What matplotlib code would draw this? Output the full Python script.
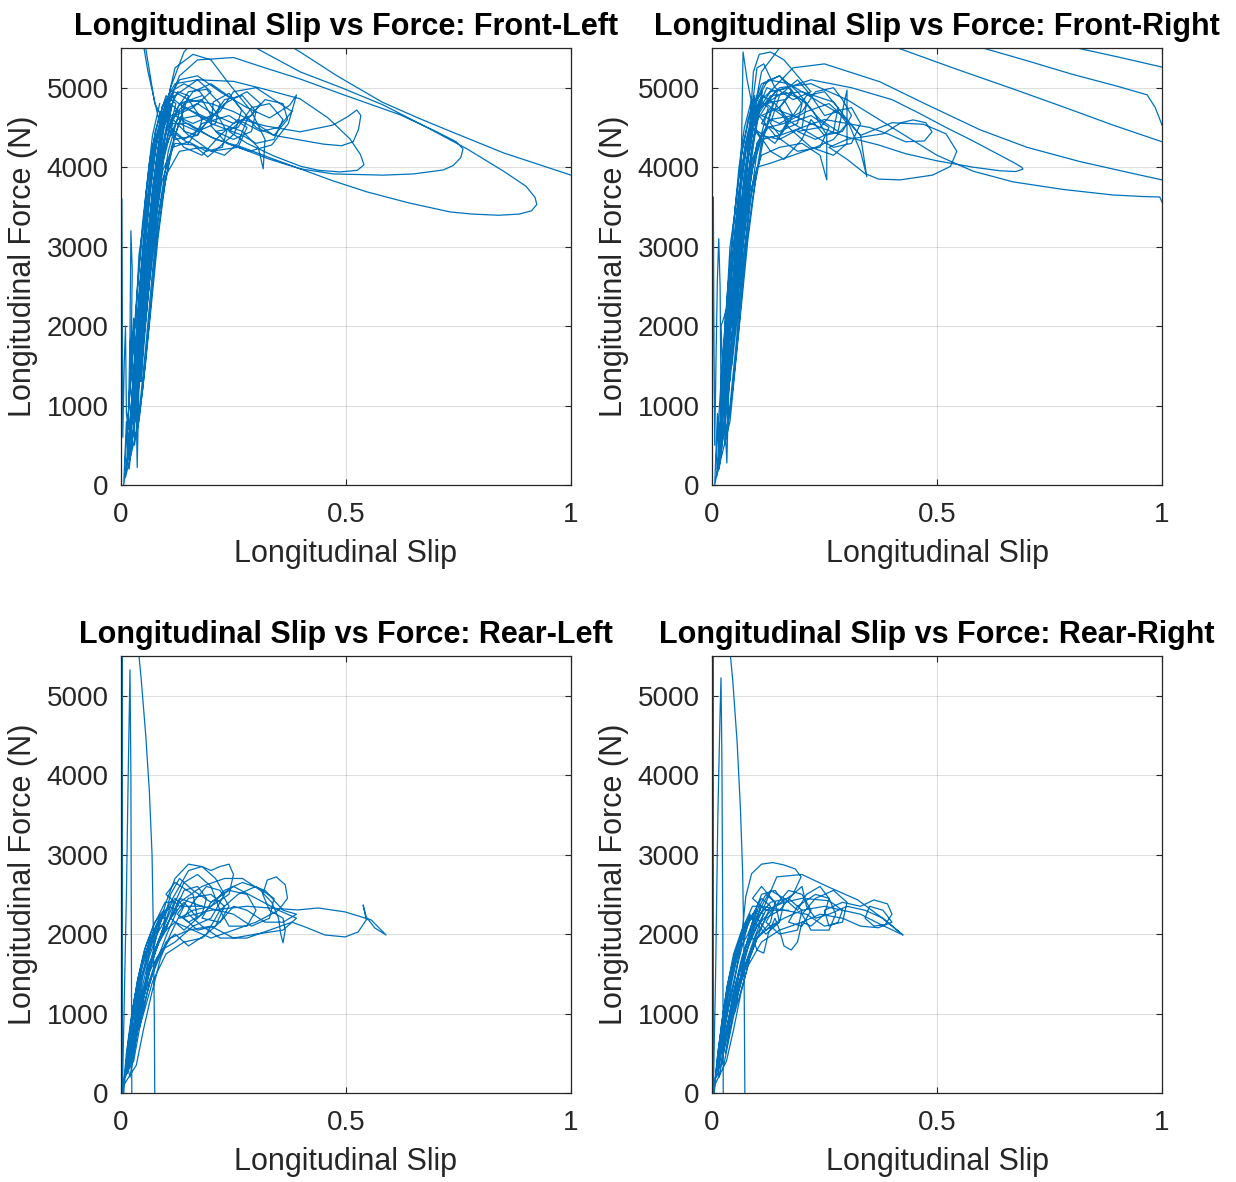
import numpy as np
import matplotlib
matplotlib.use("Agg")
import matplotlib.pyplot as plt

nan = float("nan")

titles = ["Longitudinal Slip vs Force: Front-Left", "Longitudinal Slip vs Force: Front-Right",
          "Longitudinal Slip vs Force: Rear-Left", "Longitudinal Slip vs Force: Rear-Right"]
x_label = "Longitudinal Slip"
y_label = "Longitudinal Force (N)"
x_ticks = [0, 0.5, 1]
x_tick_labels = ["0", "0.5", "1"]
y_ticks = [0, 1000, 2000, 3000, 4000, 5000]

# (slip, force) traces; nan breaks where the trace leaves the axes
fl_pts = [
    (0.000, 0), (0.002, 3600), (0.003, 2200), (0.004, 600), (0.007, 1500), (0.010, 2000), (0.012, 900),
    (0.016, 700), (0.020, 1900), (0.022, 3200), (0.025, 2700), (0.022, 1400), (0.017, 1000), (0.028, 2100),
    (0.033, 1200), (0.036, 220), (0.040, 1300), (0.036, 1900), (0.030, 800),
    (0.028, 1100), (0.040, 2000), (0.052, 2900), (0.064, 3600), (0.076, 4200), (0.090, 4650), (0.110, 4950),
    (0.140, 5050), (0.175, 4950), (0.210, 4700), (0.235, 4450), (0.225, 4250), (0.190, 4200), (0.150, 4320),
    (0.115, 4250), (0.090, 3800), (0.072, 3100), (0.058, 2300), (0.044, 1500), (0.030, 900),
    (0.040, 1700), (0.054, 2700), (0.068, 3500), (0.082, 4200), (0.098, 4700), (0.120, 5250), (0.160, 5420),
    (0.200, 5350), (0.240, 5050), (0.290, 4700), (0.320, 4350), (0.316, 3980), (0.305, 4250), (0.270, 4450),
    (0.220, 4550), (0.170, 4650), (0.125, 4600), (0.095, 4200), (0.075, 3500), (0.060, 2700), (0.046, 1800),
    (0.034, 1200),
    (0.046, 2100), (0.060, 3100), (0.074, 3900), (0.088, 4500), (0.105, 4850), (0.130, 5100), (0.170, 5150),
    (0.220, 4950), (0.280, 4750), (0.330, 4620), (0.375, 4780), (0.390, 4910), (0.372, 4550), (0.335, 4280),
    (0.285, 4200), (0.235, 4300), (0.200, 4520), (0.205, 4820), (0.240, 4930), (0.268, 4720), (0.252, 4420),
    (0.193, 4130), (0.160, 4280), (0.120, 4300), (0.092, 3950), (0.074, 3200), (0.058, 2300), (0.042, 1400),
    (0.052, 2500), (0.066, 3400), (0.080, 4150), (0.096, 4650), (0.118, 4950), (0.150, 4850), (0.180, 4600),
    (0.170, 4400), (0.140, 4450), (0.135, 4750), (0.160, 4950), (0.200, 5050), (0.250, 4850), (0.300, 4500),
    (0.340, 4400), (0.370, 4600), (0.360, 4800), (0.320, 4850), (0.280, 4600), (0.260, 4300), (0.230, 4150),
    (0.180, 4250), (0.130, 4200), (0.100, 3900), (0.080, 3300), (0.064, 2600), (0.050, 1800),
    (0.060, 2800), (0.075, 3700), (0.090, 4400), (0.110, 5000), (0.140, 5450), (0.180, 5700), (0.260, 5800),
    (0.340, 5650), (0.398, 5450), (0.480, 5150), (0.580, 4820), (0.660, 4620), (0.724, 4470), (0.850, 4180),
    (1.000, 3900), (1.030, 3850), (nan, nan),
    (0.260, 5700), (0.300, 5500), (0.398, 5200), (0.490, 5000), (0.582, 4785), (0.680, 4500), (0.769, 4230),
    (0.850, 3950), (0.900, 3760), (0.920, 3620), (0.924, 3530), (0.912, 3450), (0.885, 3410), (0.840, 3395),
    (0.780, 3410), (0.731, 3437), (0.640, 3550), (0.546, 3690), (0.470, 3830), (0.398, 3980), (0.330, 4120),
    (0.270, 4250), (0.210, 4350), (0.160, 4500), (0.120, 4650), (0.100, 4450), (0.085, 3900), (0.068, 3000),
    (0.054, 2200), (0.040, 1500),
    (0.056, 2600), (0.072, 3600), (0.088, 4300), (0.105, 4800), (0.130, 5150), (0.170, 5350), (0.250, 5380),
    (0.320, 5250), (0.398, 5110), (0.500, 4900), (0.620, 4660), (0.700, 4450), (0.745, 4320), (0.760, 4230),
    (0.755, 4120), (0.738, 4020), (0.716, 3965), (0.650, 3915), (0.583, 3900), (0.472, 3915), (0.398, 3980),
    (0.330, 4100), (0.270, 4230), (0.200, 4380), (0.150, 4550), (0.115, 4550), (0.095, 4100), (0.078, 3400),
    (0.062, 2500), (0.048, 1700),
    (0.064, 2900), (0.080, 3900), (0.096, 4500), (0.120, 4900), (0.170, 5100), (0.250, 5080), (0.320, 4980),
    (0.398, 4860), (0.460, 4620), (0.509, 4355), (0.532, 4160), (0.540, 4030), (0.525, 3960), (0.487, 3940),
    (0.440, 3960), (0.400, 4010), (0.340, 4140), (0.280, 4300), (0.240, 4450), (0.270, 4600), (0.320, 4520),
    (0.398, 4445), (0.471, 4530), (0.505, 4640), (0.524, 4720), (0.533, 4650), (0.528, 4480), (0.516, 4320),
    (0.490, 4270), (0.450, 4290), (0.400, 4340), (0.340, 4400), (0.300, 4550), (0.250, 4700), (0.200, 4800),
    (0.150, 4850), (0.110, 4600), (0.088, 3900), (0.070, 3000), (0.056, 2100), (0.044, 1300),
    (0.060, 2600), (0.076, 3700), (0.088, 4500), (0.060, 5200), (0.048, 5600), (nan, nan),
    (0.052, 5600), (0.075, 4800), (0.095, 4600), (0.130, 4700), (0.170, 4800), (0.210, 4650), (0.250, 4550),
    (0.290, 4650), (0.310, 4800), (0.280, 4950), (0.230, 4800), (0.180, 4500), (0.140, 4350), (0.110, 4500),
    (0.130, 4800), (0.180, 4900),
]

fl_band = [
    (0.008, 200), (0.020, 1200), (0.034, 2300), (0.048, 3300), (0.064, 4100), (0.085, 4650), (0.100, 4850),
    (0.088, 4400), (0.070, 3700), (0.055, 2900), (0.040, 1900), (0.026, 900), (0.014, 300),
    (0.018, 500), (0.030, 1500), (0.044, 2600), (0.058, 3500), (0.075, 4300), (0.100, 4800), (0.118, 4900),
    (0.098, 4400), (0.080, 3800), (0.064, 3000), (0.050, 2100), (0.036, 1200), (0.024, 500),
    (0.022, 700), (0.036, 1800), (0.050, 2800), (0.064, 3700), (0.082, 4400), (0.110, 4800), (0.130, 4700),
    (0.105, 4200), (0.086, 3500), (0.070, 2700), (0.056, 1800), (0.042, 1000), (0.030, 500),
    (0.030, 900), (0.044, 2000), (0.058, 3000), (0.072, 3800), (0.090, 4450), (0.118, 4850), (0.140, 4750),
    (0.112, 4250), (0.092, 3600), (0.076, 2900), (0.062, 2000), (0.048, 1200), (0.034, 600),
    (0.038, 1200), (0.050, 2200), (0.062, 3100), (0.078, 4000), (0.098, 4600), (0.126, 4950), (0.150, 4900),
    (0.120, 4400), (0.098, 3800), (0.082, 3100), (0.068, 2300), (0.054, 1500), (0.040, 800),
    (0.010, 100), (0.024, 1100), (0.040, 2400), (0.054, 3400), (0.070, 4200), (0.092, 4700), (0.108, 4700),
    (0.090, 4200), (0.074, 3500), (0.060, 2700), (0.046, 1800), (0.032, 900), (0.018, 200),
    (0.014, 300), (0.028, 1400), (0.042, 2500), (0.056, 3400), (0.072, 4150), (0.094, 4650), (0.114, 4800),
    (0.096, 4300), (0.080, 3700), (0.064, 2800), (0.050, 1900), (0.036, 1000), (0.020, 400),
    (0.012, 600), (0.026, 1600), (0.040, 2700), (0.056, 3700), (0.076, 4450), (0.100, 4900), (0.122, 4800),
    (0.100, 4300), (0.080, 4000), (0.062, 3200), (0.048, 2300), (0.034, 1300), (0.022, 600),
    (0.006, 0), (0.012, 800), (0.018, 300), (0.026, 1300), (0.020, 1800), (0.032, 2000), (0.040, 2900),
    (0.050, 3300), (0.060, 3900), (0.070, 4400), (0.086, 4800), (nan, nan),
    (0.120, 4700), (0.150, 4950), (0.190, 4980), (0.220, 4800), (0.210, 4550), (0.170, 4450), (0.130, 4550),
    (0.140, 4750), (0.200, 4600), (0.230, 4850), (0.270, 4900), (0.300, 4700), (0.290, 4450), (0.250, 4350),
    (0.210, 4450), (0.260, 4500), (0.290, 4750), (0.330, 4800), (0.360, 4600), (0.340, 4350), (0.300, 4300),
    (0.270, 4400), (0.200, 4550), (0.130, 4800), (0.180, 4850), (0.200, 4650), (0.170, 4400), (0.120, 4350),
    (0.100, 4500), (0.150, 4300), (0.180, 4550), (0.240, 4650), (0.280, 4500), (0.260, 4250), (0.200, 4200),
    (0.150, 4400), (0.090, 4750), (0.120, 5050), (0.170, 5100), (0.200, 4950), (0.160, 4750), (0.120, 4650),
    (0.160, 4550), (0.220, 4700), (0.250, 4950), (0.300, 5000), (0.340, 4850), (0.380, 4700), (0.350, 4500),
    (0.310, 4450), (0.260, 4600), (0.220, 4400), (0.180, 4150), (0.140, 4250), (0.110, 4450),
]

fr_pts = [
    (0.000, 0), (0.003, 3625), (0.004, 2200), (0.006, 500), (0.009, 1600), (0.012, 2600), (0.015, 3100),
    (0.018, 2500), (0.020, 1100), (0.015, 300), (0.024, 1400), (0.030, 2200), (0.027, 1000), (0.033, 277),
    (0.038, 1400), (0.034, 2300), (0.028, 1200),
    (0.040, 2000), (0.052, 2900), (0.064, 3700), (0.078, 4300), (0.092, 4750), (0.115, 5050), (0.150, 5150),
    (0.190, 4950), (0.225, 4700), (0.255, 4400), (0.255, 3840), (0.240, 4150), (0.200, 4300), (0.150, 4250),
    (0.110, 4150), (0.085, 3700), (0.068, 3000), (0.054, 2200), (0.040, 1300),
    (0.050, 2400), (0.062, 3400), (0.066, 4400), (0.069, 5450), (0.078, 5100), (0.092, 4700), (0.120, 4800),
    (0.160, 4950), (0.200, 4850), (0.240, 4600), (0.280, 4450), (0.300, 4970), (0.300, 4300), (0.270, 4150),
    (0.220, 4250), (0.170, 4500), (0.150, 4750), (0.175, 4950), (0.210, 4800), (0.200, 4500), (0.150, 4350),
    (0.110, 4400), (0.090, 4100), (0.074, 3400), (0.060, 2600), (0.046, 1700),
    (0.058, 2900), (0.072, 3800), (0.086, 4400), (0.100, 4850), (0.125, 5100), (0.170, 5050), (0.230, 4850),
    (0.290, 4650), (0.330, 4400), (0.344, 3880), (0.330, 4200), (0.300, 4600), (0.260, 4800), (0.210, 4700),
    (0.160, 4550), (0.125, 4500), (0.100, 4300), (0.082, 3700), (0.066, 2900), (0.052, 2000),
    (0.064, 3200), (0.078, 4000), (0.092, 4550), (0.110, 4900), (0.140, 4800), (0.170, 4600), (0.150, 4400),
    (0.130, 4550), (0.150, 4900), (0.190, 5100), (0.220, 4900), (0.250, 4650), (0.280, 4700), (0.300, 4550),
    (0.270, 4350), (0.230, 4250), (0.180, 4150), (0.130, 4050), (0.100, 4000), (0.085, 3600), (0.070, 2900),
    (0.056, 2100), (0.044, 1500),
    (0.060, 2900), (0.075, 3900), (0.090, 4600), (0.110, 5200), (0.150, 5500), (0.220, 5650), (0.320, 5650),
    (0.418, 5490), (0.540, 5240), (0.669, 4985), (0.780, 4760), (0.891, 4530), (1.000, 4320), (1.030, 4260),
    (nan, nan),
    (0.560, 5600), (0.602, 5500), (0.700, 5340), (0.800, 5170), (0.900, 5020), (0.967, 4910), (0.985, 4750),
    (1.000, 4530), (nan, nan),
    (0.780, 5550), (0.811, 5500), (0.900, 5390), (1.000, 5260), (nan, nan),
    (0.120, 4900), (0.180, 5250), (0.250, 5300), (0.373, 5075), (0.480, 4780), (0.596, 4470), (0.700, 4250),
    (0.818, 4070), (0.920, 3940), (1.000, 3840), (nan, nan),
    (0.100, 4700), (0.150, 5000), (0.220, 5050), (0.300, 4850), (0.400, 4500), (0.500, 4150), (0.580, 3950),
    (0.669, 3815), (0.780, 3720), (0.891, 3650), (0.960, 3630), (0.995, 3625), (1.000, 3560), (nan, nan),
    (0.090, 4500), (0.140, 4950), (0.220, 5100), (0.310, 5000), (0.400, 4850), (0.460, 4680), (0.520, 4500),
    (0.580, 4330), (0.630, 4180), (0.670, 4060), (0.688, 4000), (0.691, 3975), (0.675, 3945), (0.640, 3955),
    (0.580, 4000), (0.500, 4080), (0.430, 4170), (0.370, 4280), (0.300, 4380), (0.240, 4500), (0.180, 4650),
    (0.130, 4600), (0.100, 4300), (0.084, 3800), (0.068, 3100), (0.054, 2300),
    (0.066, 3300), (0.080, 4100), (0.095, 4600), (0.130, 4900), (0.200, 4950), (0.270, 4820), (0.300, 4600),
    (0.330, 4400), (0.400, 4560), (0.470, 4540), (0.520, 4420), (0.544, 4200), (0.530, 4010), (0.490, 3900),
    (0.418, 3840), (0.370, 3850), (0.340, 3920), (0.300, 4100), (0.260, 4250), (0.300, 4350), (0.380, 4420),
    (0.420, 4560), (0.447, 4595), (0.475, 4560), (0.489, 4445), (0.472, 4330), (0.430, 4320), (0.390, 4420),
    (0.350, 4500), (0.300, 4550), (0.250, 4600), (0.200, 4500), (0.150, 4400), (0.110, 4350), (0.090, 4000),
    (0.074, 3300), (0.060, 2500),
    (0.072, 3600), (0.084, 4500), (0.092, 5200), (0.105, 5420), (0.130, 5450), (0.160, 5350), (0.190, 5150),
    (0.220, 4950), (0.180, 4850), (0.140, 5000), (0.115, 5300), (0.100, 5250), (0.090, 4800), (0.080, 4200),
]

fr_band = [
    (0.008, 200), (0.020, 1300), (0.034, 2400), (0.048, 3300), (0.064, 4100), (0.080, 4600), (0.095, 4900),
    (0.084, 4400), (0.068, 3700), (0.054, 2900), (0.040, 1900), (0.026, 900), (0.014, 300),
    (0.018, 600), (0.030, 1600), (0.044, 2700), (0.058, 3600), (0.074, 4300), (0.095, 4800), (0.112, 4950),
    (0.094, 4400), (0.078, 3800), (0.062, 3000), (0.048, 2100), (0.034, 1200), (0.022, 500),
    (0.022, 800), (0.036, 1900), (0.050, 2900), (0.064, 3800), (0.080, 4400), (0.105, 4850), (0.125, 4750),
    (0.100, 4200), (0.084, 3500), (0.068, 2700), (0.054, 1800), (0.040, 1000), (0.028, 500),
    (0.030, 1000), (0.044, 2100), (0.058, 3100), (0.072, 3900), (0.090, 4500), (0.115, 4900), (0.135, 4800),
    (0.108, 4250), (0.090, 3600), (0.074, 2900), (0.060, 2000), (0.046, 1200), (0.032, 600),
    (0.038, 1300), (0.050, 2300), (0.062, 3200), (0.078, 4050), (0.096, 4650), (0.122, 5000), (0.145, 4950),
    (0.116, 4400), (0.096, 3800), (0.080, 3100), (0.066, 2300), (0.052, 1500), (0.040, 800),
    (0.010, 100), (0.024, 1200), (0.038, 2500), (0.052, 3500), (0.068, 4250), (0.088, 4750), (0.104, 4750),
    (0.088, 4250), (0.072, 3550), (0.058, 2700), (0.044, 1800), (0.030, 900), (0.016, 200),
    (0.014, 300), (0.028, 1500), (0.042, 2600), (0.056, 3500), (0.072, 4200), (0.092, 4700), (0.110, 4850),
    (0.094, 4350), (0.078, 3700), (0.062, 2800), (0.048, 1900), (0.034, 1000), (0.020, 400),
    (0.006, 0), (0.012, 900), (0.018, 300), (0.024, 1400), (0.020, 2000), (0.032, 2200), (0.040, 3000),
    (0.050, 3400), (0.060, 4000), (0.072, 4500), (0.088, 4850), (nan, nan),
    (0.100, 4700), (0.130, 4950), (0.170, 5000), (0.200, 4800), (0.190, 4550), (0.150, 4450), (0.110, 4550),
    (0.130, 4750), (0.180, 4650), (0.210, 4900), (0.250, 4950), (0.280, 4750), (0.270, 4450), (0.230, 4350),
    (0.190, 4450), (0.240, 4500), (0.270, 4700), (0.310, 4750), (0.330, 4550), (0.310, 4300), (0.270, 4250),
    (0.240, 4350), (0.180, 4550), (0.120, 4800), (0.160, 4850), (0.180, 4650), (0.150, 4400), (0.110, 4350),
    (0.090, 4500), (0.140, 4300), (0.170, 4550), (0.220, 4650), (0.260, 4500), (0.240, 4250), (0.190, 4200),
    (0.140, 4400), (0.090, 4750), (0.110, 5050), (0.150, 5150), (0.180, 4950), (0.150, 4750), (0.110, 4650),
    (0.150, 4550), (0.200, 4700), (0.230, 4950), (0.270, 5000), (0.290, 4850), (0.310, 4650), (0.290, 4450),
    (0.250, 4400), (0.220, 4600), (0.200, 4350), (0.160, 4100), (0.130, 4200), (0.100, 4450),
]

rl_pts = [
    (0.001, 0), (0.001, 5800), (nan, nan),
    (0.003, 5800), (0.003, 0), (0.006, 800), (0.012, 2500), (0.016, 4000), (0.020, 5325), (0.022, 4000),
    (0.023, 2000), (0.024, 0), (nan, nan),
    (0.035, 5800), (0.045, 5200), (0.055, 4500), (0.063, 3800), (0.069, 3000), (0.072, 2000), (0.074, 1000),
    (0.075, 0), (nan, nan),
    (0.006, 0), (0.015, 600), (0.030, 1200), (0.050, 1700), (0.075, 2050), (0.100, 2300), (0.130, 2600),
    (0.150, 2800), (0.180, 2850), (0.210, 2700), (0.230, 2500), (0.200, 2200), (0.160, 2100), (0.120, 1900),
    (0.090, 1800), (0.060, 1500), (0.035, 900), (0.015, 300),
    (0.025, 900), (0.045, 1450), (0.070, 1900), (0.095, 2150), (0.110, 2500), (0.130, 2700), (0.160, 2550),
    (0.200, 2400), (0.250, 2600), (0.300, 2450), (0.350, 2300), (0.390, 2200), (0.360, 2050), (0.300, 2000),
    (0.250, 1950), (0.200, 2100), (0.150, 2050), (0.110, 1950), (0.080, 1700), (0.050, 1200), (0.025, 600),
    (0.040, 1100), (0.065, 1650), (0.085, 1900), (0.100, 2050), (0.120, 2400), (0.140, 2650), (0.170, 2750),
    (0.200, 2600), (0.220, 2300), (0.190, 2000), (0.150, 1850), (0.120, 2000), (0.100, 1900), (0.070, 1500),
    (0.045, 1000), (0.020, 400),
    (0.030, 800), (0.055, 1400), (0.080, 1850), (0.110, 2200), (0.140, 2400), (0.170, 2200), (0.200, 2350),
    (0.230, 2550), (0.270, 2650), (0.320, 2550), (0.360, 2300), (0.390, 2250), (0.360, 2150), (0.320, 2150),
    (0.280, 2300), (0.250, 2350), (0.220, 2150), (0.180, 1950), (0.140, 1900), (0.100, 1750), (0.070, 1400),
    (0.040, 800),
    (0.060, 1600), (0.090, 2000), (0.130, 2400), (0.180, 2600), (0.230, 2700), (0.270, 2700), (0.310, 2550),
    (0.335, 2400), (0.350, 2200), (0.355, 2000), (0.360, 1890), (0.365, 2050), (0.360, 2200), (0.330, 2300),
    (0.315, 2500), (0.325, 2680), (0.345, 2720), (0.365, 2620), (0.370, 2450), (0.350, 2300), (0.300, 2150),
    (0.250, 2050), (0.200, 1950), (0.160, 2050), (0.120, 2150), (0.090, 2000), (0.060, 1500),
    (0.080, 2000), (0.100, 2400), (0.120, 2700), (0.150, 2880), (0.180, 2850), (0.200, 2800), (0.220, 2850),
    (0.240, 2880), (0.250, 2750), (0.240, 2500), (0.200, 2350), (0.160, 2300), (0.130, 2200),
    (0.200, 2300), (0.280, 2350), (0.350, 2320), (0.393, 2304), (0.438, 2329), (0.498, 2279), (0.556, 2178),
    (0.589, 1989), (0.564, 2077), (0.545, 2216), (0.538, 2367), (0.545, 2178), (0.527, 2027), (0.498, 1964),
    (0.453, 1989), (0.409, 2090), (0.380, 2150), (0.330, 2050), (0.280, 1950), (0.220, 1950), (0.180, 2100),
    (0.150, 2250),
]

rl_band = [
    (0.004, 0), (0.012, 500), (0.024, 1000), (0.038, 1450), (0.055, 1850), (0.075, 2150), (0.095, 2300),
    (0.080, 2000), (0.062, 1700), (0.046, 1300), (0.030, 800), (0.016, 300),
    (0.010, 200), (0.020, 700), (0.032, 1150), (0.048, 1600), (0.066, 1950), (0.090, 2250), (0.110, 2350),
    (0.092, 2050), (0.072, 1750), (0.054, 1350), (0.038, 900), (0.022, 400),
    (0.014, 250), (0.026, 800), (0.040, 1300), (0.058, 1750), (0.080, 2100), (0.105, 2350), (0.125, 2300),
    (0.102, 2000), (0.082, 1700), (0.062, 1350), (0.044, 900), (0.028, 400),
    (0.018, 300), (0.032, 950), (0.048, 1450), (0.068, 1900), (0.092, 2200), (0.120, 2450), (0.140, 2350),
    (0.110, 2000), (0.088, 1700), (0.068, 1250), (0.050, 800), (0.034, 350),
    (0.006, 100), (0.016, 600), (0.028, 1100), (0.044, 1550), (0.062, 1900), (0.085, 2200), (0.100, 2200),
    (0.084, 1900), (0.066, 1600), (0.050, 1200), (0.034, 700), (0.020, 200),
    (0.012, 400), (0.024, 950), (0.036, 1400), (0.052, 1800), (0.072, 2100), (0.098, 2400), (0.118, 2400),
    (0.096, 2100), (0.076, 1800), (0.058, 1400), (0.042, 950), (0.026, 450), (nan, nan),
    (0.120, 2300), (0.140, 2550), (0.170, 2600), (0.190, 2450), (0.180, 2250), (0.150, 2150), (0.125, 2250),
    (0.150, 2450), (0.200, 2500), (0.230, 2350), (0.210, 2100), (0.170, 2050), (0.140, 2200), (0.160, 2400),
    (0.190, 2600), (0.220, 2550), (0.240, 2350), (0.220, 2150), (0.180, 2200), (0.200, 2400), (0.240, 2550),
    (0.280, 2500), (0.300, 2300), (0.280, 2100), (0.240, 2100), (0.220, 2300), (0.260, 2500), (0.300, 2600),
    (0.340, 2450), (0.330, 2200), (0.290, 2100), (0.250, 2250), (0.180, 2350), (0.130, 2450), (0.110, 2200),
    (0.140, 2050), (0.170, 2200), (0.160, 2500), (0.120, 2650), (0.100, 2500), (0.130, 2350), (0.180, 2350),
]

rr_pts = [
    (0.001, 0), (0.001, 5800), (nan, nan),
    (0.003, 5800), (0.003, 0), (0.008, 1500), (0.013, 3500), (0.018, 4800), (0.020, 5225), (0.022, 4200),
    (0.024, 2000), (0.025, 0), (nan, nan),
    (0.036, 5800), (0.046, 5200), (0.056, 4400), (0.063, 3600), (0.068, 2800), (0.071, 1800), (0.072, 900),
    (0.073, 0), (nan, nan),
    (0.005, 0), (0.010, 300), (0.020, 700), (0.030, 1100), (0.045, 1500), (0.060, 1800), (0.080, 2000),
    (0.100, 2300), (0.120, 2500), (0.140, 2400), (0.130, 2150), (0.100, 1950), (0.080, 1700), (0.060, 1400),
    (0.040, 1000), (0.020, 500),
    (0.030, 900), (0.050, 1400), (0.065, 1900), (0.075, 2470), (0.088, 2760), (0.110, 2880), (0.135, 2900),
    (0.160, 2870), (0.185, 2820), (0.198, 2720), (0.180, 2500), (0.150, 2300), (0.120, 2200), (0.100, 2000),
    (0.080, 1700), (0.050, 1150), (0.030, 700),
    (0.045, 1200), (0.070, 1750), (0.090, 2050), (0.110, 2350), (0.130, 2550), (0.160, 2450), (0.190, 2300),
    (0.210, 2500), (0.240, 2600), (0.260, 2450), (0.250, 2250), (0.220, 2100), (0.200, 2150), (0.190, 1900),
    (0.176, 1800), (0.160, 1850), (0.150, 2050), (0.140, 2200), (0.125, 2000), (0.115, 1760), (0.100, 1800),
    (0.087, 2000), (0.070, 1600), (0.050, 1100), (0.030, 500),
    (0.050, 1300), (0.075, 1850), (0.100, 2150), (0.120, 2400), (0.144, 2720), (0.200, 2750), (0.258, 2595),
    (0.324, 2430), (0.375, 2216), (0.424, 1990), (0.375, 2120), (0.330, 2250), (0.290, 2300), (0.250, 2350),
    (0.200, 2300), (0.160, 2200), (0.130, 2100), (0.100, 1950), (0.070, 1500), (0.040, 900),
    (0.060, 1500), (0.090, 2000), (0.120, 2300), (0.160, 2400), (0.200, 2450), (0.260, 2420), (0.290, 2300),
    (0.280, 2150), (0.260, 2100), (0.250, 2300), (0.290, 2400), (0.330, 2350), (0.360, 2430), (0.390, 2380),
    (0.400, 2250), (0.385, 2120), (0.360, 2100), (0.340, 2200), (0.350, 2350), (0.380, 2300), (0.400, 2150),
    (0.370, 2080), (0.330, 2100), (0.290, 2200), (0.240, 2250), (0.200, 2150), (0.150, 2050), (0.110, 1900),
    (0.080, 1600), (0.050, 1000),
    (0.070, 1700), (0.100, 2100), (0.140, 2350), (0.180, 2500), (0.200, 2600), (0.210, 2350), (0.230, 2200),
    (0.260, 2250), (0.300, 2350), (0.340, 2300), (0.380, 2200), (0.424, 1990),
]

rr_band = [
    (0.004, 0), (0.012, 450), (0.022, 900), (0.034, 1350), (0.050, 1750), (0.068, 2050), (0.085, 2250),
    (0.072, 1950), (0.056, 1600), (0.040, 1200), (0.026, 700), (0.014, 250),
    (0.010, 200), (0.018, 650), (0.030, 1100), (0.044, 1550), (0.060, 1900), (0.082, 2200), (0.100, 2300),
    (0.084, 2000), (0.066, 1700), (0.050, 1300), (0.034, 850), (0.020, 350),
    (0.014, 300), (0.024, 800), (0.036, 1250), (0.052, 1700), (0.072, 2050), (0.096, 2300), (0.115, 2250),
    (0.094, 1950), (0.076, 1650), (0.058, 1250), (0.042, 800), (0.026, 350),
    (0.018, 450), (0.030, 950), (0.044, 1400), (0.062, 1850), (0.086, 2200), (0.110, 2450), (0.130, 2350),
    (0.104, 2000), (0.084, 1700), (0.064, 1250), (0.048, 800), (0.032, 400),
    (0.006, 100), (0.014, 550), (0.026, 1000), (0.040, 1450), (0.056, 1850), (0.076, 2150), (0.092, 2200),
    (0.078, 1900), (0.062, 1550), (0.046, 1150), (0.030, 650), (0.016, 200),
    (0.012, 400), (0.022, 900), (0.034, 1350), (0.048, 1750), (0.066, 2050), (0.090, 2350), (0.108, 2350),
    (0.088, 2050), (0.070, 1750), (0.054, 1350), (0.038, 900), (0.024, 450), (nan, nan),
    (0.090, 2200), (0.110, 2500), (0.140, 2550), (0.160, 2400), (0.150, 2150), (0.120, 2050), (0.100, 2200),
    (0.130, 2400), (0.170, 2450), (0.200, 2300), (0.190, 2050), (0.150, 2000), (0.120, 2150), (0.140, 2350),
    (0.170, 2550), (0.200, 2500), (0.220, 2300), (0.200, 2100), (0.170, 2150), (0.190, 2350), (0.230, 2500),
    (0.260, 2450), (0.275, 2250), (0.260, 2050), (0.220, 2050), (0.200, 2250), (0.230, 2450), (0.270, 2550),
    (0.300, 2400), (0.290, 2150), (0.250, 2100), (0.210, 2250), (0.160, 2300), (0.110, 2350), (0.095, 2150),
    (0.120, 2000), (0.150, 2150), (0.140, 2400), (0.110, 2600), (0.090, 2450), (0.120, 2300), (0.170, 2300),
]

all_pts = [fl_pts + [(nan, nan)] + fl_band, fr_pts + [(nan, nan)] + fr_band,
           rl_pts + [(nan, nan)] + rl_band, rr_pts + [(nan, nan)] + rr_band]

plt.rcParams['font.family'] = ['Liberation Sans', 'DejaVu Sans']
fig = plt.figure(figsize=(12.36, 11.82), dpi=100)
W, H = 1236.0, 1182.0
lefts = [121, 712, 121, 712]
bottoms = [485, 485, 1093, 1093]
aw, ah = 450, 437

for i in range(4):
    ax = fig.add_axes([lefts[i] / W, 1 - bottoms[i] / H, aw / W, ah / H])
    xs = [p[0] for p in all_pts[i]]
    ys = [p[1] for p in all_pts[i]]
    ax.plot(xs, ys, color='#0072BD', linewidth=0.9)
    ax.set_xlim(0, 1)
    ax.set_ylim(0, 5500)
    ax.set_xticks(x_ticks)
    ax.set_xticklabels(x_tick_labels)
    ax.set_yticks(y_ticks)
    ax.grid(True, color='#262626', alpha=0.15, linewidth=0.8)
    ax.set_axisbelow(True)
    ax.tick_params(direction='in', length=4, width=0.8, colors='#262626', labelsize=20,
                   top=True, right=True, pad=9)
    ax.tick_params(axis='x', pad=12)
    for s in ax.spines.values():
        s.set_color('#262626')
        s.set_linewidth(0.9)
    ax.set_xlabel(x_label, fontsize=22, color='#262626', labelpad=8)
    ax.set_ylabel(y_label, fontsize=22, color='#262626', labelpad=6)
    ax.set_title(titles[i], fontsize=22, fontweight='bold', pad=9)

fig.savefig('out.png', dpi=100, facecolor='white')
